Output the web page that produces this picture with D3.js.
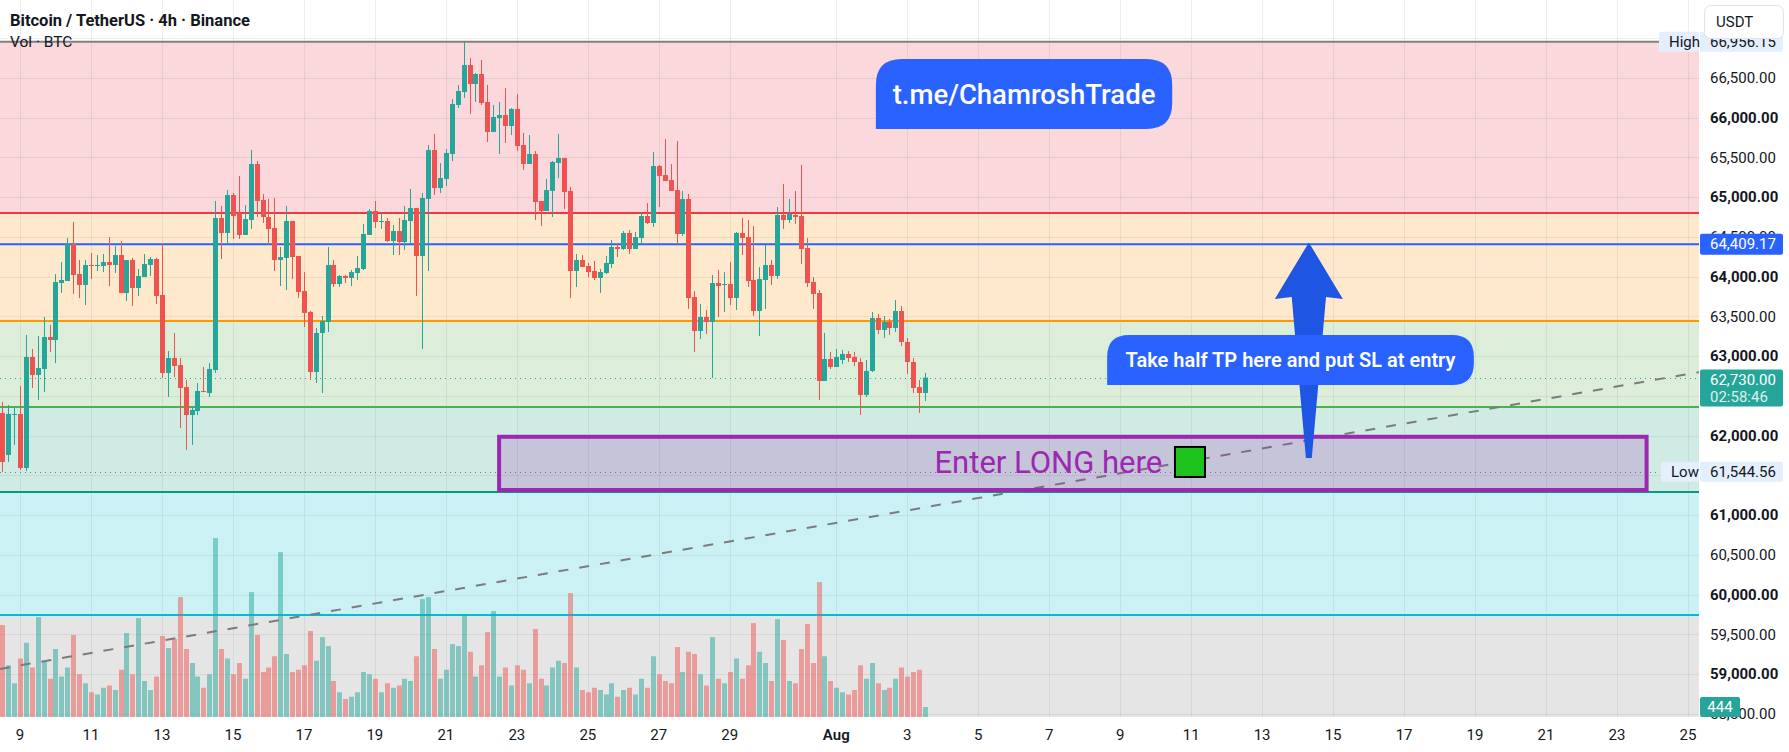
<!DOCTYPE html>
<html>
<head>
<meta charset="utf-8">
<script src="https://cdn.jsdelivr.net/npm/d3@7/dist/d3.min.js"></script>
<style>
html,body{margin:0;padding:0;background:#ffffff;overflow:hidden;}
svg{display:block;font-family:Roboto,"Noto Sans","DejaVu Sans",sans-serif;}
</style>
</head>
<body>
<svg id="chart" width="1789" height="752"></svg>
<script>
// ================= DATA =================
const startTime = Date.UTC(2024, 6, 8, 12); // first visible 4h candle
const FOUR_H = 4 * 3600 * 1000;

const opens = [
 62284,61756,62259,62272,61592,62989,62762,62838,63240,63203,
 63920,63945,64411,64033,63895,64147,64134,64134,64184,64147,
 64272,63794,64209,63857,63995,64147,64222,63769,62788,62976,
 62888,62611,62259,62309,62561,62536,62825,64738,64549,65027,
 64801,64524,64713,65417,64964,64750,64612,64209,64235,64700,
 64260,63819,63555,62800,63291,63429,64147,63907,64008,63983,
 64046,64096,64524,64826,64688,64700,64448,64574,64436,64700,
 64864,64260,64977,65594,65115,65229,65543,66160,66323,66663,
 66424,66550,66198,65820,65996,66034,65896,66110,65656,65417,
 65543,64952,64826,65078,65430,65493,65078,64071,64209,64134,
 64071,63983,64046,64159,64373,64348,64549,64348,64486,64763,
 64675,65392,65279,65216,65090,64537,64977,63744,63316,63492,
 63429,63920,63895,63907,63731,64549,64499,63958,63568,63958,
 64147,64008,64776,64713,64776,64763,64360,63933,63794,62687,
 62964,62863,62951,63027,62989,62926,62511,62813,63480,63329,
 63429,63354,63568,63178,62926,62611,62536
];
const highs = [
 62423,62385,62347,62624,63266,63090,63253,63492,63392,64033,
 64184,64486,64688,64209,64209,64298,64272,64285,64499,64386,
 64448,64209,64235,64096,64285,64247,64235,64411,63064,63291,
 62976,62699,62360,62662,62863,62913,64952,64889,65090,65052,
 65266,64901,65594,65455,65040,64977,64990,64373,64889,64700,
 64260,64058,63568,63354,63505,64373,64209,64021,64021,64084,
 64260,64662,64851,64952,64801,64738,64650,64738,64889,65103,
 64864,65052,65656,65795,65430,65606,66235,66411,66956.15,66751,
 66562,66726,66411,66160,66198,66374,66122,66298,65807,65782,
 65581,64952,65229,65455,65795,65493,65128,64285,64272,64172,
 64197,64096,64260,64461,64423,64574,64587,64562,64813,64927,
 65568,65405,65732,65417,65707,65078,65040,63819,63656,63580,
 64021,64084,64058,64184,64562,64738,64713,64637,64121,64398,
 64209,64876,65166,64977,65078,65405,64486,63995,63832,63291,
 63052,63090,63077,63064,63052,62976,62951,63555,63530,63505,
 63467,63706,63631,63228,62976,62699,62788
];
const lows = [
 61544.56,61668,61882,61567,61554,62599,62448,62548,63052,62913,
 63794,63945,63782,63731,63643,63970,64071,64058,63882,64046,
 63794,63693,63631,63756,63995,64008,63656,62725,62485,62737,
 62095,61819,61882,62259,62548,62485,62788,64222,64411,64474,
 64474,64524,64600,64750,64675,64398,64071,63882,63832,63970,
 63731,63366,62699,62662,62536,63303,63870,63870,63920,63882,
 63958,64084,64524,64612,64600,64436,64272,64272,64335,64411,
 63756,63090,64071,65027,65052,65141,65455,66122,66248,66047,
 66198,66160,65694,65820,65543,65682,65782,65581,65342,65417,
 64713,64637,64826,64750,65241,64851,63731,63870,64121,63995,
 63958,63794,64033,64109,64247,64335,64285,64348,64411,64662,
 64625,64876,65203,65078,64411,64511,63593,63052,63215,63278,
 62725,63492,63555,63643,63580,64272,63870,63505,63253,63593,
 63895,63970,64600,64675,64662,64159,63870,63593,62448,62687,
 62838,62863,62901,62926,62876,62259,62485,62800,63278,63228,
 63266,63303,63127,62775,62536,62284,62435
];
const closes = [
 61668,62272,62272,61592,62989,62762,62850,63240,63203,63933,
 63958,64411,64021,63895,64147,64134,64147,64184,64147,64272,
 63794,64209,63857,64008,64159,64222,63756,62788,62976,62876,
 62599,62259,62322,62561,62548,62838,64738,64549,65027,64763,
 64524,64725,65417,64952,64750,64600,64209,64247,64700,64247,
 63807,63543,62800,63291,63442,64147,63907,64008,63983,64058,
 64109,64537,64826,64688,64700,64448,64574,64436,64713,64864,
 64260,64990,65594,65115,65241,65556,66172,66336,66663,66424,
 66550,66185,65820,66009,66034,65896,66110,65644,65417,65543,
 64939,64826,65090,65443,65493,65065,64071,64209,64121,64058,
 63983,64058,64172,64373,64348,64549,64348,64499,64763,64675,
 65392,65266,65203,65078,64537,64977,63731,63316,63492,63429,
 63920,63882,63907,63731,64549,64486,63945,63568,63970,64147,
 64008,64776,64713,64788,64750,64348,63920,63782,62687,62964,
 62863,62989,63027,62976,62926,62511,62813,63480,63329,63429,
 63354,63568,63178,62926,62599,62536,62730
];
const volumes = [
 4085,2300,1500,2600,3300,2200,4440,2500,1700,3020,
 1800,2200,3640,1900,1500,1100,1000,1300,1400,1200,
 2100,3730,1900,4395,1600,1200,1800,3600,3065,3465,
 5330,3020,2400,1800,1300,1900,7950,3020,2600,1900,
 2400,1700,5550,3640,2000,2200,2700,7325,2800,2000,
 2100,2300,3820,2500,3550,3150,1600,1100,800,900,
 1100,2000,1900,1700,1100,1500,1300,1400,1700,1600,
 2700,5240,5330,3020,1700,2100,3240,3150,4575,2900,
 1800,2300,3775,4705,1800,2200,1400,2300,2100,1500,
 3905,1700,1400,2200,2500,2400,5505,2200,1200,1100,
 1300,1200,1000,1500,900,1200,1300,1000,1700,1300,
 2700,1900,1600,1500,3110,2000,2900,2800,1900,1400,
 3550,1700,1500,2000,2600,1700,2300,4175,2900,2400,
 1600,4350,3420,1600,1500,3020,4130,2400,5995,2700,
 1600,1300,1100,1000,1200,2300,1700,2400,1500,1200,
 1300,1700,2200,1800,2000,2100,444
];

const priceTicks = [58500,59000,59500,60000,60500,61000,61500,62000,62500,63000,63500,64000,64500,65000,65500,66000,66500,67000];
// axis labels that the chart hides behind price tags
const hiddenPriceLabels = [61500, 62500, 67000];
const dateTickDays = ["2024-07-09","2024-07-11","2024-07-13","2024-07-15","2024-07-17","2024-07-19","2024-07-21","2024-07-23","2024-07-25","2024-07-27","2024-07-29","2024-08-01","2024-08-03","2024-08-05","2024-08-07","2024-08-09","2024-08-11","2024-08-13","2024-08-15","2024-08-17","2024-08-19","2024-08-21","2024-08-23","2024-08-25"];
const dateTickLabels = ["9","11","13","15","17","19","21","23","25","27","29","Aug","3","5","7","9","11","13","15","17","19","21","23","25"];

// horizontal zone levels (top to bottom)
const bandLevels = [66956.15, 64801, 63442, 62360, 61290, 59742];
const tpLevel = 64409.17;
const highPrice = 66956.15;
const lowPrice = 61544.56;
const lastPrice = 62730;
const lastVolume = 444;
const countdownText = "02:58:46";
// trend line anchors: [candle index, price]
const trendA = [16, 59277];
const trendB = [130, 60759];
// entry zone: candle index range and price range
const entryFrom = 84, entryTo = 278, entryTop = 61985, entryBottom = 61315;

// ================= LAYOUT / STYLE =================
const W = 1789, H = 752, plotR = 1699, plotB = 717;
const UP = "#26a69a", DN = "#ef5350";
const bandFills = ["#fad8dc", "#ffe9cc", "#dcedda", "#d0ebe4", "#ccf1f4", "#e5e5e5"];
const lineColors = ["#808080", "#f23645", "#ff9800", "#4caf50", "#089981", "#00bcd4"];
const gridColor = "rgba(42,46,57,0.08)";
const txt = "#131722";

const t = i => new Date(startTime + i * FOUR_H);
const x = d3.scaleTime().domain([t(-0.38), t(286.86)]).range([0, plotR]);
const y = d3.scaleLinear().domain([58459, 67481]).range([plotB, 0]);
const vh = d3.scaleLinear().domain([0, 8000]).range([0, 180]);
const xi = i => x(t(i));
const fmt = d3.format(",.2f");

const svg = d3.select("#chart");
svg.append("rect").attr("width", W).attr("height", H).attr("fill", "#fff");

svg.append("defs").append("clipPath").attr("id", "plotclip")
  .append("rect").attr("x", 0).attr("y", 0).attr("width", plotR).attr("height", plotB);

const plot = svg.append("g").attr("clip-path", "url(#plotclip)");

// bands
const bandRows = bandLevels.map((p, k) => ({
  top: p, bottom: k + 1 < bandLevels.length ? bandLevels[k + 1] : y.domain()[0], fill: bandFills[k]
}));
plot.selectAll("rect.band").data(bandRows).join("rect").attr("class", "band")
  .attr("x", 0).attr("width", plotR)
  .attr("y", d => y(d.top)).attr("height", d => y(d.bottom) - y(d.top))
  .attr("fill", d => d.fill);

// grid
plot.selectAll("line.hg").data(priceTicks).join("line").attr("class", "hg")
  .attr("x1", 0).attr("x2", plotR)
  .attr("y1", d => Math.round(y(d)) + 0.5).attr("y2", d => Math.round(y(d)) + 0.5)
  .attr("stroke", gridColor);
const tickDates = dateTickDays.map(s => new Date(s + "T00:00:00Z"));
plot.selectAll("line.vg").data(tickDates).join("line").attr("class", "vg")
  .attr("x1", d => Math.round(x(d)) + 0.5).attr("x2", d => Math.round(x(d)) + 0.5)
  .attr("y1", 0).attr("y2", plotB).attr("stroke", gridColor);

// level lines
plot.selectAll("line.lvl").data(bandLevels).join("line").attr("class", "lvl")
  .attr("x1", 0).attr("x2", plotR)
  .attr("y1", d => y(d)).attr("y2", d => y(d))
  .attr("stroke", (d, k) => lineColors[k]).attr("stroke-width", 2);
plot.append("line").attr("x1", 0).attr("x2", plotR).attr("y1", y(tpLevel)).attr("y2", y(tpLevel))
  .attr("stroke", "#2962ff").attr("stroke-width", 2);

// candles data
const candles = opens.map((o, i) => ({ i, o, h: highs[i], l: lows[i], c: closes[i], v: volumes[i] }));

// volume
plot.selectAll("rect.vol").data(candles).join("rect").attr("class", "vol")
  .attr("x", d => Math.round(xi(d.i)) - 2).attr("width", 5)
  .attr("y", d => plotB - vh(d.v)).attr("height", d => vh(d.v))
  .attr("fill", d => d.c >= d.o ? "rgba(38,166,154,0.5)" : "rgba(239,83,80,0.5)");

// dotted last/low lines
plot.append("line").attr("x1", 0).attr("x2", plotR)
  .attr("y1", Math.round(y(lastPrice)) + 0.5).attr("y2", Math.round(y(lastPrice)) + 0.5)
  .attr("stroke", UP).attr("stroke-width", 1).attr("stroke-dasharray", "1,4");
plot.append("line").attr("x1", 0).attr("x2", 1659)
  .attr("y1", Math.round(y(lowPrice)) + 0.5).attr("y2", Math.round(y(lowPrice)) + 0.5)
  .attr("stroke", "#787b86").attr("stroke-width", 1).attr("stroke-dasharray", "1,4");

// candles
const cg = plot.append("g");
cg.selectAll("line.wick").data(candles).join("line").attr("class", "wick")
  .attr("x1", d => Math.round(xi(d.i)) + 0.5).attr("x2", d => Math.round(xi(d.i)) + 0.5)
  .attr("y1", d => y(d.h)).attr("y2", d => y(d.l))
  .attr("stroke", d => d.c >= d.o ? UP : DN).attr("stroke-width", 1);
cg.selectAll("rect.body").data(candles).join("rect").attr("class", "body")
  .attr("x", d => Math.round(xi(d.i)) - 2).attr("width", 5)
  .attr("y", d => y(Math.max(d.o, d.c)))
  .attr("height", d => Math.max(1, Math.abs(y(d.o) - y(d.c))))
  .attr("fill", d => d.c >= d.o ? UP : DN);

// trend line (extended both sides)
const slope = (trendB[1] - trendA[1]) / (trendB[0] - trendA[0]);
const tl0 = -0.38, tl1 = 286.86;
plot.append("line")
  .attr("x1", xi(tl0)).attr("y1", y(trendA[1] + slope * (tl0 - trendA[0])))
  .attr("x2", xi(tl1)).attr("y2", y(trendA[1] + slope * (tl1 - trendA[0])))
  .attr("stroke", "#7b7b7b").attr("stroke-width", 2).attr("stroke-dasharray", "10,11");

// entry zone
plot.append("rect")
  .attr("x", xi(entryFrom)).attr("y", y(entryTop))
  .attr("width", xi(entryTo) - xi(entryFrom)).attr("height", y(entryBottom) - y(entryTop))
  .attr("fill", "rgba(156,39,176,0.2)").attr("stroke", "#9c27b0").attr("stroke-width", 4);
plot.append("text").attr("x", xi(196.1)).attr("y", y(61668)).attr("dy", "0.35em")
  .attr("text-anchor", "end").attr("fill", "#9c27b0").attr("font-size", 31)
  .text("Enter LONG here");
plot.append("rect").attr("x", xi(200.8) - 15).attr("y", y(61668) - 15)
  .attr("width", 30).attr("height", 30).attr("fill", "#1ec31e")
  .attr("stroke", "#000").attr("stroke-width", 2);

// arrow (tip at TP level)
const ax = 220.9, tipP = 64430, headP = 63719, baseP = 61718;
const arrowPts = [
  [xi(ax), y(tipP)], [xi(ax + 5.75), y(headP)], [xi(ax + 2.9), y(headP) - 2],
  [xi(ax + 0.5), y(baseP)], [xi(ax - 0.5), y(baseP)], [xi(ax - 2.9), y(headP) - 2],
  [xi(ax - 5.75), y(headP)]
];
plot.append("polygon").attr("points", arrowPts.map(p => p.join(",")).join(" "))
  .attr("fill", "#1f55e3");

// comment bubbles (rounded except bottom-left)
function bubble(x0, y0, x1, y1, r) {
  return `M${x0},${y1} L${x0},${y0 + r} Q${x0},${y0} ${x0 + r},${y0} L${x1 - r},${y0} Q${x1},${y0} ${x1},${y0 + r} L${x1},${y1 - r} Q${x1},${y1} ${x1 - r},${y1} Z`;
}
const b1 = [xi(147.7), y(66739), xi(197.8), y(65858)];
plot.append("path").attr("d", bubble(b1[0], b1[1], b1[2], b1[3], 26)).attr("fill", "#2962ff");
plot.append("text").attr("x", (b1[0] + b1[2]) / 2).attr("y", (b1[1] + b1[3]) / 2).attr("dy", "0.35em")
  .attr("text-anchor", "middle").attr("fill", "#fff").attr("font-size", 27.5).attr("font-weight", 500)
  .text("t.me/ChamroshTrade");
const b2 = [xi(186.8), y(63266), xi(248.8), y(62637)];
plot.append("path").attr("d", bubble(b2[0], b2[1], b2[2], b2[3], 22)).attr("fill", "#2962ff");
plot.append("text").attr("x", (b2[0] + b2[2]) / 2).attr("y", (b2[1] + b2[3]) / 2).attr("dy", "0.35em")
  .attr("text-anchor", "middle").attr("fill", "#fff").attr("font-size", 20).attr("font-weight", 600)
  .text("Take half TP here and put SL at entry");

// header
svg.append("text").attr("x", 10).attr("y", 26).attr("fill", txt).attr("font-size", 16.5).attr("font-weight", 700)
  .text("Bitcoin / TetherUS · 4h · Binance");
svg.append("text").attr("x", 10).attr("y", 47).attr("fill", txt).attr("font-size", 15.5)
  .text("Vol · BTC");

// axes backgrounds
svg.append("rect").attr("x", plotR).attr("y", 0).attr("width", W - plotR).attr("height", H).attr("fill", "#fff");
svg.append("rect").attr("x", 0).attr("y", plotB).attr("width", plotR).attr("height", H - plotB).attr("fill", "#fff");

// price axis labels
svg.selectAll("text.pl").data(priceTicks.filter(p => !hiddenPriceLabels.includes(p))).join("text").attr("class", "pl")
  .attr("x", 1710).attr("y", d => y(d)).attr("dy", "0.35em")
  .attr("font-size", 15).attr("fill", txt)
  .attr("font-weight", d => d % 1000 === 0 ? 700 : 400)
  .text(d => fmt(d));

// time axis labels
svg.selectAll("text.tl").data(tickDates).join("text").attr("class", "tl")
  .attr("x", d => x(d)).attr("y", 735).attr("dy", "0.35em").attr("text-anchor", "middle")
  .attr("font-size", 15).attr("fill", txt)
  .attr("font-weight", (d, k) => dateTickLabels[k] === "Aug" ? 600 : 400)
  .text((d, k) => dateTickLabels[k]);

// price tags
function tag(xl, yc, w, h, fill, label, color) {
  svg.append("rect").attr("x", xl).attr("y", yc - h / 2).attr("width", w).attr("height", h)
    .attr("fill", fill).attr("rx", 2);
  svg.append("text").attr("x", xl + 10).attr("y", yc).attr("dy", "0.35em")
    .attr("font-size", 15).attr("fill", color).text(label);
}
tag(1659, y(highPrice), 40, 20, "#e3effd", "High", txt);
tag(1700, y(highPrice), 83, 20, "#e3effd", fmt(highPrice), txt);
tag(1661, y(lowPrice), 38, 20, "#e3effd", "Low", txt);
tag(1700, y(lowPrice), 83, 20, "#e3effd", fmt(lowPrice), txt);
tag(1700, y(tpLevel), 83, 21, "#2962ff", fmt(tpLevel), "#fff");
// last price with countdown
svg.append("rect").attr("x", 1700).attr("y", y(lastPrice) - 8).attr("width", 83).attr("height", 37)
  .attr("fill", UP).attr("rx", 2);
svg.append("text").attr("x", 1710).attr("y", y(lastPrice) + 2).attr("dy", "0.35em")
  .attr("font-size", 15).attr("fill", "#fff").text(fmt(lastPrice));
svg.append("text").attr("x", 1710).attr("y", y(lastPrice) + 19).attr("dy", "0.35em")
  .attr("font-size", 15).attr("fill", "rgba(255,255,255,0.85)").text(countdownText);
// last volume
svg.append("rect").attr("x", 1700).attr("y", plotB - 20).attr("width", 40).attr("height", 20)
  .attr("fill", UP).attr("rx", 2);
svg.append("text").attr("x", 1720).attr("y", plotB - 10).attr("dy", "0.35em").attr("text-anchor", "middle")
  .attr("font-size", 15).attr("fill", "#fff").text(lastVolume);

// currency box (overlaps top of the high tag, as in the chart)
svg.append("rect").attr("x", 1704.5).attr("y", 5.5).attr("width", 79).attr("height", 33).attr("rx", 6)
  .attr("fill", "#fff").attr("stroke", "#e0e3eb");
svg.append("text").attr("x", 1716).attr("y", 22).attr("dy", "0.35em").attr("font-size", 15)
  .attr("fill", txt).text("USDT");
</script>
</body>
</html>
